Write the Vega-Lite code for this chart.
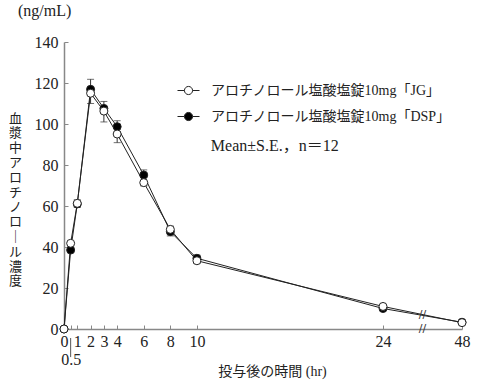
{
  "$schema": "https://vega.github.io/schema/vega-lite/v6.json",
  "width": 398,
  "height": 287,
  "autosize": "none",
  "padding": {"left": 64, "top": 42, "right": 15, "bottom": 53},
  "background": "white",
  "config": {
    "view": {"stroke": null},
    "font": "Liberation Serif, Noto Sans CJK JP",
    "axis": {"grid": false, "labelOverlap": false}
  },
  "title": {
    "text": "(ng/mL)",
    "anchor": "start",
    "frame": "group",
    "dx": -46,
    "offset": 15,
    "fontSize": 16,
    "fontWeight": "normal",
    "font": "Liberation Serif, Noto Sans CJK JP",
    "color": "#222"
  },
  "data": {
    "values": [
      {"t": 0, "s": "アロチノロール塩酸塩錠10mg「DSP」", "c": 0, "e": 0},
      {"t": 0.5, "s": "アロチノロール塩酸塩錠10mg「DSP」", "c": 38.5, "e": 40.5},
      {"t": 1, "s": "アロチノロール塩酸塩錠10mg「DSP」", "c": 61, "e": 63},
      {"t": 2, "s": "アロチノロール塩酸塩錠10mg「DSP」", "c": 116.9, "e": 121.8},
      {"t": 3, "s": "アロチノロール塩酸塩錠10mg「DSP」", "c": 107.6, "e": 111},
      {"t": 4, "s": "アロチノロール塩酸塩錠10mg「DSP」", "c": 98.7, "e": 101.6},
      {"t": 6, "s": "アロチノロール塩酸塩錠10mg「DSP」", "c": 75.1, "e": 77.6},
      {"t": 8, "s": "アロチノロール塩酸塩錠10mg「DSP」", "c": 47.5, "e": 50.2},
      {"t": 10, "s": "アロチノロール塩酸塩錠10mg「DSP」", "c": 34.5, "e": 36},
      {"t": 24, "s": "アロチノロール塩酸塩錠10mg「DSP」", "c": 10, "e": 11},
      {"t": 48, "s": "アロチノロール塩酸塩錠10mg「DSP」", "c": 3.3, "e": 3.8},
      {"t": 0, "s": "アロチノロール塩酸塩錠10mg「JG」", "c": 0, "e": 0},
      {"t": 0.5, "s": "アロチノロール塩酸塩錠10mg「JG」", "c": 41.8, "e": 39.8},
      {"t": 1, "s": "アロチノロール塩酸塩錠10mg「JG」", "c": 61.3, "e": 59.3},
      {"t": 2, "s": "アロチノロール塩酸塩錠10mg「JG」", "c": 115, "e": 110},
      {"t": 3, "s": "アロチノロール塩酸塩錠10mg「JG」", "c": 106.3, "e": 101},
      {"t": 4, "s": "アロチノロール塩酸塩錠10mg「JG」", "c": 95.1, "e": 90.9},
      {"t": 6, "s": "アロチノロール塩酸塩錠10mg「JG」", "c": 71.4, "e": 69.8},
      {"t": 8, "s": "アロチノロール塩酸塩錠10mg「JG」", "c": 48.6, "e": 45.4},
      {"t": 10, "s": "アロチノロール塩酸塩錠10mg「JG」", "c": 33.3, "e": 32},
      {"t": 24, "s": "アロチノロール塩酸塩錠10mg「JG」", "c": 11, "e": 10},
      {"t": 48, "s": "アロチノロール塩酸塩錠10mg「JG」", "c": 3.1, "e": 2.6}
    ]
  },
  "layer": [
    {
      "mark": {"type": "rule", "color": "#333", "strokeWidth": 1},
      "encoding": {
        "x": {
          "field": "t",
          "type": "quantitative",
          "scale": {"type": "linear", "domain": [0, 24, 48], "range": [0, 319, 398], "nice": false, "zero": false},
          "axis": {
            "values": [0, 0.5, 1, 2, 3, 4, 6, 8, 10, 24, 48],
            "tickCount": 30,
            "domainColor": "#888",
            "domainWidth": 1.5,
            "tickColor": "#888",
            "tickSize": -4,
            "tickWidth": 1,
            "labelFontSize": 16,
            "labelColor": "#222",
            "labelPadding": 8,
            "labelFlush": false,
            "labelOverlap": false,
            "labelFont": "Liberation Serif",
            "labelLineHeight": 18,
            "labelExpr": "datum.value === 0.5 ? ['', '0.5'] : datum.label",
            "title": "投与後の時間 (hr)",
            "titleFont": "Liberation Serif, Noto Sans CJK JP",
            "titleFontSize": 14,
            "titleFontWeight": "normal",
            "titleColor": "#222",
            "titleX": 208,
            "titleY": 46,
            "titleBaseline": "alphabetic",
            "titleAlign": "center"
          }
        },
        "y": {
          "field": "c",
          "type": "quantitative",
          "scale": {"domain": [0, 140], "nice": false},
          "axis": {
            "values": [0, 20, 40, 60, 80, 100, 120, 140],
            "tickCount": 30,
            "domainColor": "#888",
            "domainWidth": 1.5,
            "tickColor": "#888",
            "tickSize": -4,
            "tickWidth": 1,
            "labelFontSize": 16,
            "labelColor": "#222",
            "labelPadding": 10,
            "labelOverlap": false,
            "labelFont": "Liberation Serif",
            "title": ["血", "漿", "中", "ア", "ロ", "チ", "ノ", "ロ", "｜", "ル", "濃", "度"],
            "titleFont": "Noto Sans CJK JP",
            "titleFontSize": 13,
            "titleFontWeight": "normal",
            "titleColor": "#222",
            "titleAngle": 0,
            "titleLineHeight": 14.8,
            "titleX": -49,
            "titleY": 70,
            "titleBaseline": "top",
            "titleAlign": "center"
          }
        },
        "y2": {"field": "e"}
      }
    },
    {
      "transform": [{"filter": "datum.e != datum.c"}],
      "mark": {"type": "tick", "orient": "horizontal", "color": "#333", "size": 7, "thickness": 1},
      "encoding": {
        "x": {"field": "t", "type": "quantitative"},
        "y": {"field": "e", "type": "quantitative"}
      }
    },
    {
      "mark": {"type": "line", "color": "#222", "strokeWidth": 1},
      "encoding": {
        "x": {"field": "t", "type": "quantitative"},
        "y": {"field": "c", "type": "quantitative"},
        "detail": {"field": "s"}
      }
    },
    {
      "mark": {"type": "point", "filled": true, "stroke": "#222", "strokeWidth": 1, "size": 64, "opacity": 1},
      "encoding": {
        "x": {"field": "t", "type": "quantitative"},
        "y": {"field": "c", "type": "quantitative"},
        "fill": {
          "field": "s",
          "type": "nominal",
          "scale": {
            "domain": ["アロチノロール塩酸塩錠10mg「JG」", "アロチノロール塩酸塩錠10mg「DSP」"],
            "range": ["white", "black"]
          },
          "legend": {
            "orient": "none",
            "legendX": 113,
            "legendY": 37,
            "title": null,
            "padding": 0,
            "symbolType": "M-1,0H-0.37M0.37,0H1M0.37,0A0.37,0.37 0 1 1 -0.37,0A0.37,0.37 0 1 1 0.37,0Z",
            "symbolSize": 484,
            "symbolStrokeColor": "#222",
            "symbolStrokeWidth": 1,
            "symbolOpacity": 1,
            "labelFont": "Liberation Serif, Noto Sans CJK JP",
            "labelFontSize": 14,
            "labelColor": "#222",
            "labelOffset": 11,
            "labelLimit": 400,
            "rowPadding": 7
          }
        }
      }
    },
    {
      "data": {"values": [{}]},
      "mark": {"type": "text", "text": "Mean±S.E.，n＝12", "fontSize": 16, "color": "#222", "align": "left", "baseline": "middle", "font": "Liberation Serif, Noto Sans CJK JP"},
      "encoding": {"x": {"datum": 11.05}, "y": {"datum": 89.3}}
    },
    {
      "data": {"values": [{}]},
      "mark": {"type": "text", "text": "//", "fontSize": 11, "color": "#333", "font": "DejaVu Sans"},
      "encoding": {"x": {"datum": 36}, "y": {"datum": 0}}
    },
    {
      "data": {"values": [{}]},
      "mark": {"type": "text", "text": "//", "fontSize": 11, "color": "#333", "font": "DejaVu Sans"},
      "encoding": {"x": {"datum": 36}, "y": {"datum": 6.8}}
    },
    {
      "data": {"values": [{}]},
      "mark": {"type": "rule", "color": "#555", "strokeWidth": 1},
      "encoding": {"x": {"datum": 0.5}, "y": {"datum": -4.4}, "y2": {"datum": -13.7}}
    }
  ]
}
